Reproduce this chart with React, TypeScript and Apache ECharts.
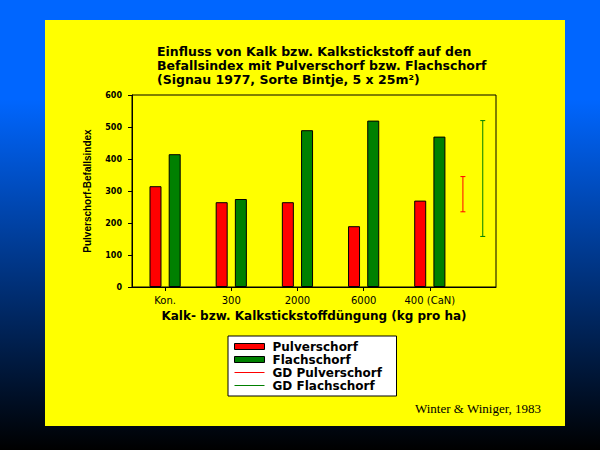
import React, { useEffect, useRef } from 'react';
import * as echarts from 'echarts';

const categories = ['Kon.', '300', '2000', '6000', '400 (CaN)'];
const categoryPositions = [1, 2, 3, 4, 5];
const pulverschorf = [315, 265, 265, 190, 270];
const flachschorf = [415, 275, 490, 520, 470];
// [x position, lower end, upper end]
const gdPulverschorf = [5.5, 235, 345];
const gdFlachschorf = [5.8, 158, 520];
const yMin = 0;
const yMax = 600;
const yInterval = 100;

const titleLines = [
  'Einfluss von Kalk bzw. Kalkstickstoff auf den',
  'Befallsindex mit Pulverschorf bzw. Flachschorf',
  '(Signau 1977, Sorte Bintje, 5 x 25m²)',
];
const xAxisName = 'Kalk- bzw. Kalkstickstoffdüngung (kg pro ha)';
const yAxisName = 'Pulverschorf-Befallsindex';
const citation = 'Winter & Winiger, 1983';

const RED = '#ff0000';
const GREEN = '#008000';

const errorBar = (color: string) => (params: any, api: any) => {
  const x = api.value(0);
  const top = api.coord([x, api.value(2)]);
  const bottom = api.coord([x, api.value(1)]);
  const cap = 2.5;
  const style = { stroke: color, lineWidth: 1, fill: 'none' };
  return {
    type: 'group',
    children: [
      { type: 'line', shape: { x1: top[0], y1: top[1], x2: bottom[0], y2: bottom[1] }, style },
      { type: 'line', shape: { x1: top[0] - cap, y1: top[1], x2: top[0] + cap, y2: top[1] }, style },
      { type: 'line', shape: { x1: bottom[0] - cap, y1: bottom[1], x2: bottom[0] + cap, y2: bottom[1] }, style },
    ],
  };
};

export default function App() {
  const ref = useRef<HTMLDivElement>(null);

  useEffect(() => {
    if (!ref.current) return;
    const chart = echarts.init(ref.current, undefined, { renderer: 'svg' });
    const lineIcon = 'path://M0,0H30V1H0Z';
    chart.setOption({
      animation: false,
      backgroundColor: new echarts.graphic.LinearGradient(0, 0, 0, 1, [
        { offset: 0, color: '#0066ff' },
        { offset: 0.22, color: '#0066ff' },
        { offset: 1, color: '#000000' },
      ]),
      graphic: [
        {
          type: 'rect',
          z: -10,
          shape: { x: 45, y: 20, width: 520, height: 406 },
          style: { fill: '#ffff00' },
        },
        {
          type: 'text',
          z: 10,
          x: 415,
          y: 408,
          style: {
            text: citation,
            fill: '#000',
            font: '13px "Liberation Serif", "Times New Roman", serif',
            verticalAlign: 'middle',
            align: 'left',
          },
        },
      ],
      title: {
        text: titleLines.join('\n'),
        left: 157,
        top: 45,
        padding: 0,
        textStyle: {
          fontFamily: 'DejaVu Sans',
          fontWeight: 'bold',
          fontSize: 12.5,
          lineHeight: 13.6,
          color: '#000',
        },
      },
      legend: {
        orient: 'vertical',
        left: 228,
        top: 336,
        backgroundColor: '#ffffff',
        borderColor: '#000',
        borderWidth: 1,
        padding: [4, 6, 4, 6],
        itemWidth: 30,
        itemHeight: 6,
        itemGap: 0,
        selectedMode: false,
        textStyle: {
          fontFamily: 'DejaVu Sans',
          fontWeight: 'bold',
          fontSize: 12,
          lineHeight: 13,
          color: '#000',
          width: 118,
          padding: [0, 0, 0, 3],
        },
        data: [
          { name: 'Pulverschorf', icon: 'rect', itemStyle: { color: RED, borderColor: '#000', borderWidth: 1 } },
          { name: 'Flachschorf', icon: 'rect', itemStyle: { color: GREEN, borderColor: '#000', borderWidth: 1 } },
          { name: 'GD Pulverschorf', icon: lineIcon, itemStyle: { color: RED, borderWidth: 0 } },
          { name: 'GD Flachschorf', icon: lineIcon, itemStyle: { color: GREEN, borderWidth: 0 } },
        ],
      },
      grid: {
        left: 132,
        top: 95,
        width: 364,
        height: 192,
        show: true,
        borderColor: '#000',
        borderWidth: 1,
        backgroundColor: 'transparent',
      },
      xAxis: {
        type: 'value',
        min: 0.5,
        max: 6,
        name: xAxisName,
        nameLocation: 'middle',
        nameGap: 23,
        nameTextStyle: {
          fontFamily: 'DejaVu Sans',
          fontWeight: 'bold',
          fontSize: 12,
          color: '#000',
        },
        splitLine: { show: false },
        axisLine: { show: true, lineStyle: { color: '#000', width: 1 } },
        axisTick: {
          show: true,
          length: 4,
          inside: false,
          customValues: categoryPositions,
          lineStyle: { color: '#000' },
        },
        axisLabel: {
          customValues: categoryPositions,
          formatter: (v: number) => categories[Math.round(v) - 1] ?? '',
          margin: 8,
          fontFamily: 'DejaVu Sans',
          fontSize: 10,
          color: '#000',
        },
      },
      yAxis: {
        type: 'value',
        min: yMin,
        max: yMax,
        interval: yInterval,
        name: yAxisName,
        nameLocation: 'middle',
        nameGap: 40,
        nameTextStyle: {
          fontFamily: 'Liberation Sans',
          fontWeight: 'bold',
          fontSize: 10,
          color: '#000',
        },
        splitLine: { show: false },
        axisLine: { show: true, lineStyle: { color: '#000', width: 1 } },
        axisTick: { show: true, length: 4, inside: false, lineStyle: { color: '#000' } },
        axisLabel: {
          margin: 10,
          fontFamily: 'DejaVu Sans',
          fontWeight: 'bold',
          fontSize: 8,
          color: '#000',
        },
      },
      series: [
        {
          name: 'Pulverschorf',
          type: 'bar',
          barWidth: 12,
          barGap: '60%',
          data: categoryPositions.map((x, i) => [x, pulverschorf[i]]),
          itemStyle: { color: RED, borderColor: '#000', borderWidth: 1 },
        },
        {
          name: 'Flachschorf',
          type: 'bar',
          barWidth: 12,
          barGap: '60%',
          data: categoryPositions.map((x, i) => [x, flachschorf[i]]),
          itemStyle: { color: GREEN, borderColor: '#000', borderWidth: 1 },
        },
        {
          name: 'GD Pulverschorf',
          type: 'custom',
          renderItem: errorBar(RED),
          encode: { x: 0, y: [1, 2] },
          itemStyle: { color: RED },
          data: [gdPulverschorf],
        },
        {
          name: 'GD Flachschorf',
          type: 'custom',
          renderItem: errorBar(GREEN),
          encode: { x: 0, y: [1, 2] },
          itemStyle: { color: GREEN },
          data: [gdFlachschorf],
        },
      ],
    });
    return () => chart.dispose();
  }, []);

  return (
    <div
      ref={ref}
      style={{ position: 'fixed', left: 0, top: 0, width: 600, height: 450 }}
    />
  );
}
